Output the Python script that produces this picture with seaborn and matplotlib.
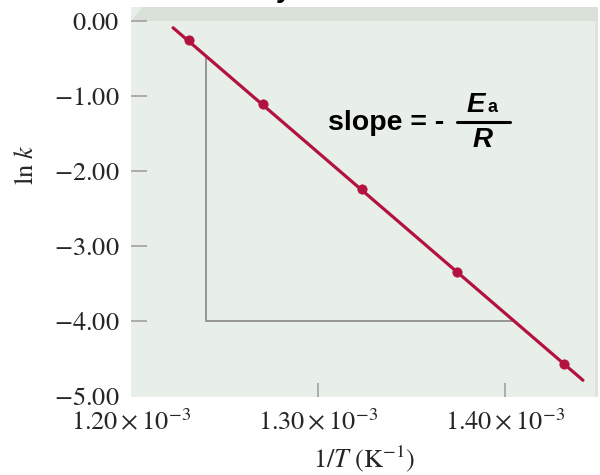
import numpy as np
import pandas as pd
import matplotlib
matplotlib.use("Agg")
import matplotlib.pyplot as plt
from matplotlib.patches import Polygon
import seaborn as sns

# data
inv_T = [1.231e-3, 1.2706e-3, 1.3235e-3, 1.3743e-3, 1.4316e-3]
ln_k = [-0.25, -1.11, -2.24, -3.35, -4.57]

# drawn fit line (ends as seen in the picture)
fit_x = [1.2225e-3, 1.4417e-3]
fit_y = [-0.09, -4.79]

# slope triangle guide
tri_x = [1.2401e-3, 1.2401e-3, 1.405e-3]
tri_y = [-0.47, -4.00, -4.00]

x_ticks = [1.20e-3, 1.30e-3, 1.40e-3]
x_tick_labels = [r"$1.20\times10^{-3}$", r"$1.30\times10^{-3}$", r"$1.40\times10^{-3}$"]
y_ticks = [0, -1, -2, -3, -4, -5]
y_tick_labels = [r"$0.00$", r"$-1.00$", r"$-2.00$", r"$-3.00$", r"$-4.00$", r"$-5.00$"]

sns.set_style("white")
plt.rcParams["font.family"] = ["Liberation Serif", "DejaVu Serif"]
plt.rcParams["mathtext.fontset"] = "stix"

line_color = "#B3123F"
bg = "#E8EEE8"
band = "#D8E0D8"
tick_grey = "#9A9A9A"

fig = plt.figure(figsize=(6, 4.75), dpi=100)
ax = fig.add_axes([131 / 600, 1 - 397 / 475, 467 / 600, 390 / 475])
ax.set_facecolor(bg)

# bevelled top band and right edge strip
y0 = (397 - 21) / 390
ax.add_patch(Polygon([(0, y0), (0.025, 1), (1, 1), (1, y0)], closed=True,
                     transform=ax.transAxes, color=band, lw=0, zorder=0))
ax.add_patch(Polygon([(0.9936, 0), (0.9936, y0), (1, y0), (1, 0)], closed=True,
                     transform=ax.transAxes, color="#DDE4DD", lw=0, zorder=0))

df_fit = pd.DataFrame({"x": fit_x, "y": fit_y})
df_pts = pd.DataFrame({"x": inv_T, "y": ln_k})

ax.plot(tri_x, tri_y, color="#8E8E8E", lw=1.3, zorder=2)
sns.lineplot(data=df_fit, x="x", y="y", ax=ax, color=line_color, lw=2.3, zorder=3)
sns.scatterplot(data=df_pts, x="x", y="y", ax=ax, color=line_color, s=45,
                edgecolor=line_color, zorder=4)

ax.set_xlim(1.20e-3, 1.20e-3 + 467 / 1870 * 1e-3)
ax.set_ylim(-5.013, 0.187)

ax.set_xticks(x_ticks)
ax.set_xticklabels(x_tick_labels)
ax.set_yticks(y_ticks)
ax.set_yticklabels(y_tick_labels)
ax.tick_params(axis="y", direction="in", length=11.5, width=1.1, color=tick_grey,
               pad=8, labelsize=19, left=True)
ax.tick_params(axis="x", direction="in", length=10, width=1.1, color=tick_grey,
               pad=9, labelsize=19, bottom=True)
# ticks sitting on the plot edges are not drawn in the reference
ax.xaxis.get_major_ticks()[0].tick1line.set_visible(False)
ax.yaxis.get_major_ticks()[-1].tick1line.set_visible(False)
for s in ax.spines.values():
    s.set_visible(False)

ax.set_xlabel(r"$1/T\ (\mathrm{K}^{-1})$", fontsize=19)
ax.xaxis.set_label_coords(0.5, -0.12)
ax.set_ylabel(r"$\mathrm{ln}\ k$", fontsize=19)
ax.yaxis.set_label_coords(-0.2, 0.595)

# slope annotation
sans = ["Liberation Sans", "DejaVu Sans"]
ax.text(0.4218, 0.6846, "slope = -", transform=ax.transAxes, family=sans,
        fontsize=20.5, weight="bold", va="baseline", ha="left", color="black")
ax.plot([0.698, 0.812], [0.705, 0.705], transform=ax.transAxes, color="black", lw=2.2)
ax.text(0.7175, 0.7308, "E", transform=ax.transAxes, family=sans, fontsize=20,
        weight="bold", style="italic", va="baseline", ha="left", color="black")
ax.text(0.7625, 0.7308, "a", transform=ax.transAxes, family=sans, fontsize=13,
        weight="bold", va="baseline", ha="left", color="black")
ax.text(0.7537, 0.641, "R", transform=ax.transAxes, family=sans, fontsize=20,
        weight="bold", style="italic", va="baseline", ha="center", color="black")

# tail of the cut-off title above the chart
fig.text(0.472, 1.006, "y", family=sans, fontsize=20, weight="bold",
         va="baseline", ha="center", color="black")

fig.savefig("out.png", dpi=100)
